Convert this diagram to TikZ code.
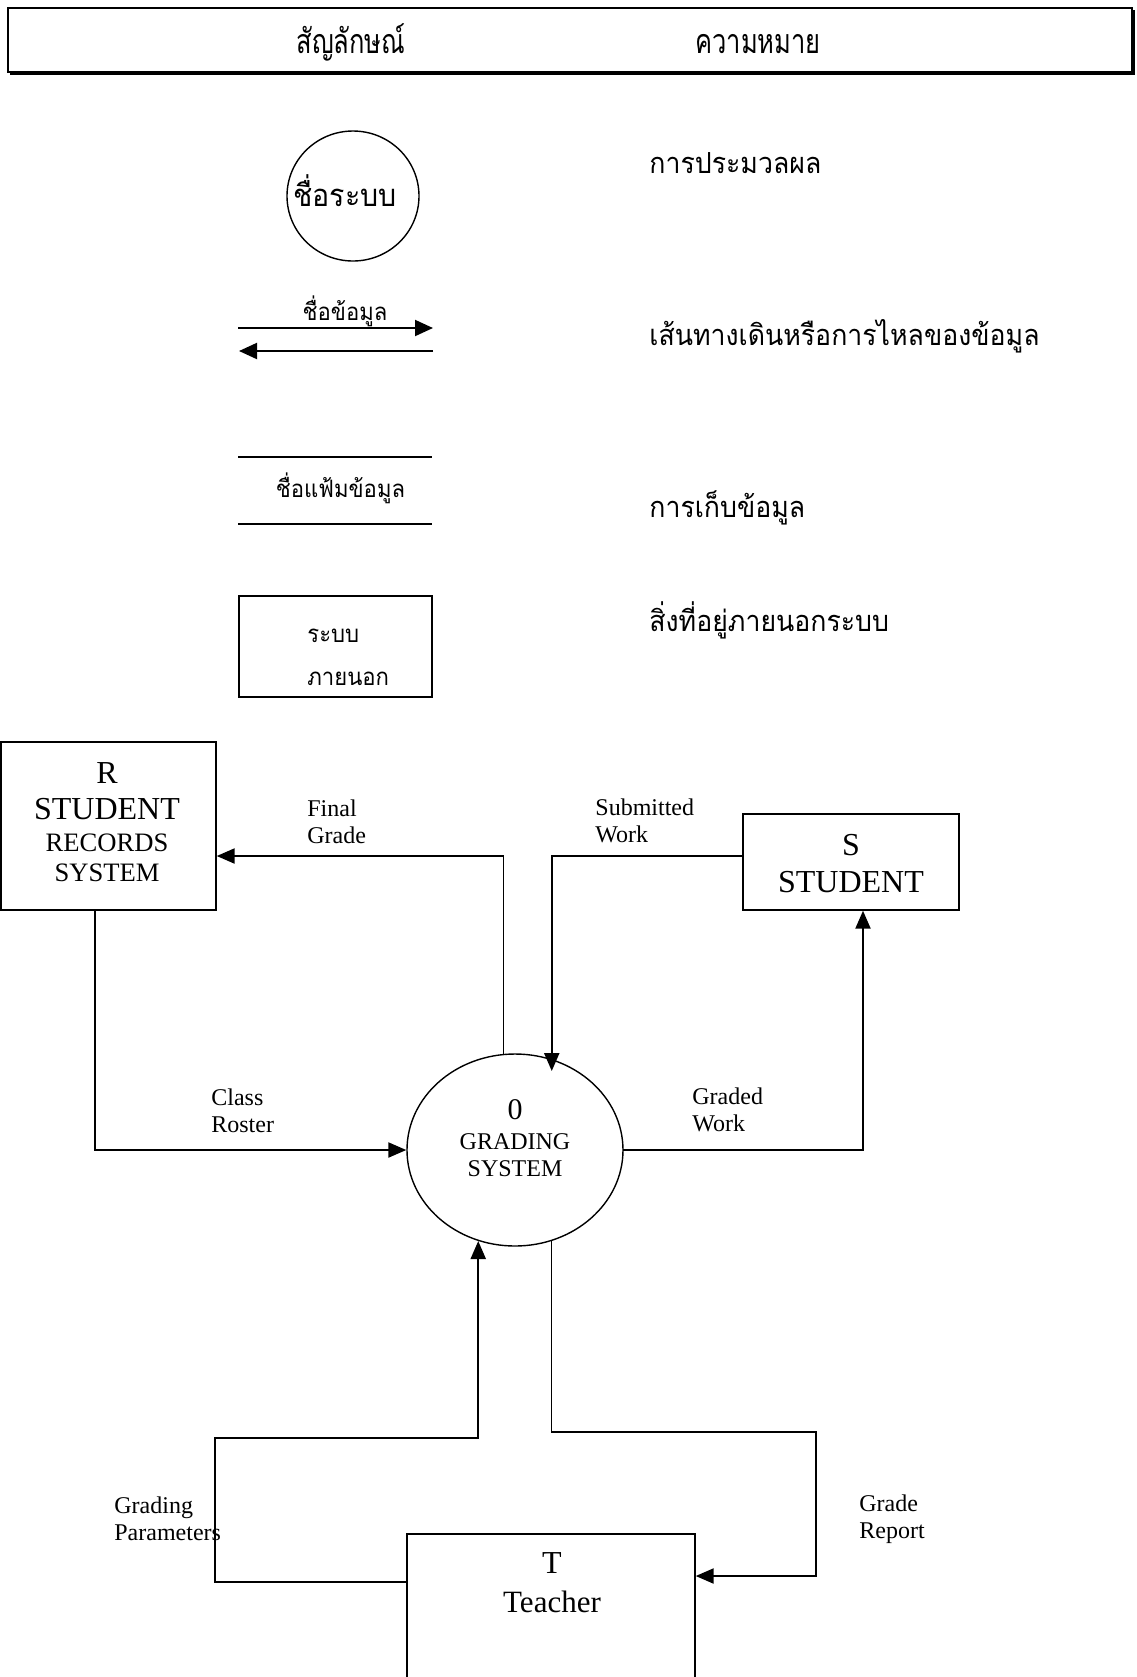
\documentclass[tikz,border=0pt]{standalone}
\usepackage{fontspec}
\setmainfont{Liberation Serif}
\newfontfamily\thaifont[Script=Thai,FakeStretch=0.92]{Loma}
\newfontfamily\thaihead[Script=Thai,FakeStretch=0.75]{Loma}
\usetikzlibrary{arrows.meta,shapes.geometric,calc}
\tikzset{
  box/.style={draw,line width=0.7pt,rectangle,inner sep=0pt},
  proc/.style={draw,line width=0.7pt,ellipse,inner sep=0pt},
  thinline/.style={line width=0.7pt,line cap=rect},
  thickline/.style={line width=1.1pt,line cap=rect},
  flow/.style={thickline,-{Triangle[length=9pt,width=7.5pt]}},
  legarrow/.style={line width=1pt,-{Triangle[length=9pt,width=8pt]}},
  storeline/.style={line width=1pt},
  lab/.style={inner sep=0pt,align=left,anchor=west,font=\fontsize{12pt}{13.5pt}\selectfont},
  txt/.style={inner sep=0pt},
  bigt/.style={txt,font=\fontsize{16pt}{18pt}\selectfont},
  midt/.style={txt,font=\fontsize{13.3pt}{15pt}\selectfont},
  smallt/.style={txt,font=\fontsize{12pt}{14pt}\selectfont},
  thaiR/.style={inner sep=0pt,anchor=base west,font=\thaifont\fontsize{14.5pt}{16pt}\selectfont},
  thaiL/.style={inner sep=0pt,anchor=base,font=\thaifont\fontsize{12pt}{14pt}\selectfont},
  thaiH/.style={inner sep=0pt,anchor=base,font=\thaihead\fontsize{17pt}{19pt}\selectfont}
}
\begin{document}
\begin{tikzpicture}[x=0.5pt,y=-0.5pt]
\useasboundingbox (0,0) rectangle (1136,1677);
% header
\draw[line width=1pt] (8,8) rectangle (1132,72);
\draw[line width=1pt] (10,74) -- (1134,74) -- (1134,10);
\node[thaiH] (h1) at (351,53) {สัญลักษณ์};
\node[thaiH] (h2) at (758,53) {ความหมาย};
% legend: process
\node[proc,minimum width=66pt,minimum height=65pt] (lp) at (353,196) {};
\node[thaiL,font=\thaifont\fontsize{15.5pt}{17pt}\selectfont] (lpt) at (345,206) {ชื่อระบบ};
\node[thaiR] (d1) at (649,173) {การประมวลผล};
% legend: data flow
\coordinate (fa1) at (238,328);
\coordinate (fa2) at (433,328);
\coordinate (fb1) at (433,351);
\coordinate (fb2) at (239,351);
\draw[legarrow] (fa1) -- (fa2);
\draw[legarrow] (fb1) -- (fb2);
\node[thaiL] (lft) at (345,320) {ชื่อข้อมูล};
\node[thaiR] (d2) at (649,345) {เส้นทางเดินหรือการไหลของข้อมูล};
% legend: data store
\coordinate (s1) at (238,457);
\coordinate (s2) at (432,457);
\coordinate (s3) at (238,524);
\coordinate (s4) at (432,524);
\draw[storeline] (s1) -- (s2);
\draw[storeline] (s3) -- (s4);
\node[thaiL] (lst) at (340.5,497) {ชื่อแฟ้มข้อมูล};
\node[thaiR] (d3) at (649,517) {การเก็บข้อมูล};
% legend: external entity
\node[box,minimum width=96.5pt,minimum height=50.5pt] (lb) at (335.5,646.5) {};
\node[thaiL,anchor=base west] (lbt1) at (307,642) {ระบบ};
\node[thaiL,anchor=base west] (lbt2) at (307,685) {ภายนอก};
\node[thaiR] (d4) at (649,631) {สิ่งที่อยู่ภายนอกระบบ};
% diagram nodes
\node[box,minimum width=107.5pt,minimum height=84pt] (R) at (108.5,826) {};
\node[bigt] (R1) at (107,773) {R};
\node[bigt] (R2) at (107,809) {STUDENT};
\node[midt] (R3) at (107,843) {RECORDS};
\node[midt] (R4) at (107,873) {SYSTEM};
\node[box,minimum width=108pt,minimum height=48pt] (S) at (851,862) {};
\node[bigt] (S1) at (851,845) {S};
\node[bigt] (S2) at (851,882) {STUDENT};
\node[proc,minimum width=108pt,minimum height=96pt] (G) at (515,1150) {};
\node[txt,font=\fontsize{15pt}{17pt}\selectfont] (G1) at (515,1110) {0};
\node[smallt] (G2) at (515,1142) {GRADING};
\node[smallt] (G3) at (515,1169) {SYSTEM};
\node[box,minimum width=144pt,minimum height=93pt] (T) at (551,1627) {};
\node[bigt] (T1) at (552,1563) {T};
\node[txt,font=\fontsize{15.5pt}{17pt}\selectfont] (T2) at (552,1602) {Teacher};
% bend points of the connectors
\coordinate (fgc) at (G.97 |- 0,856);
\coordinate (crc) at ([xshift=-6.75pt]R.south |- G.west);
\coordinate (gpc) at (215,1438);
\coordinate (gpa) at (G.248 |- gpc);
\coordinate (grc) at (816,1432);
\coordinate (grd) at (grc |- 0,1576);
% connectors
\draw[thinline] (G.97) -- (fgc);
\draw[flow] (fgc) -- (R.east |- fgc);
\draw[flow,shorten >=-6pt] ([yshift=3pt]S.west) -| (G.68);
\draw[thinline] ([xshift=-6.75pt]R.south) -- (crc);
\draw[flow] (crc) -- (G.west);
\draw[flow] (G.east) -| ([xshift=6pt]S.south);
\draw[thinline] ([yshift=22.5pt]T.west) -| (gpc) -- (gpa);
\draw[flow] (gpa) -- (G.248);
\draw[thinline] (G.292) |- (grc) -- (grd);
\draw[flow] (grd) -- (T.east |- grd);
% labels
\node[lab] (l1) at (307,821.5) {Final\\Grade};
\node[lab] (l2) at (595,821) {Submitted\\Work};
\node[lab] (l3) at (211,1110.5) {Class\\Roster};
\node[lab] (l4) at (692,1110) {Graded\\Work};
\node[lab] (l5) at (114,1519) {Grading\\Parameters};
\node[lab] (l6) at (859,1519) {Grade\\Report};
\end{tikzpicture}
\end{document}
